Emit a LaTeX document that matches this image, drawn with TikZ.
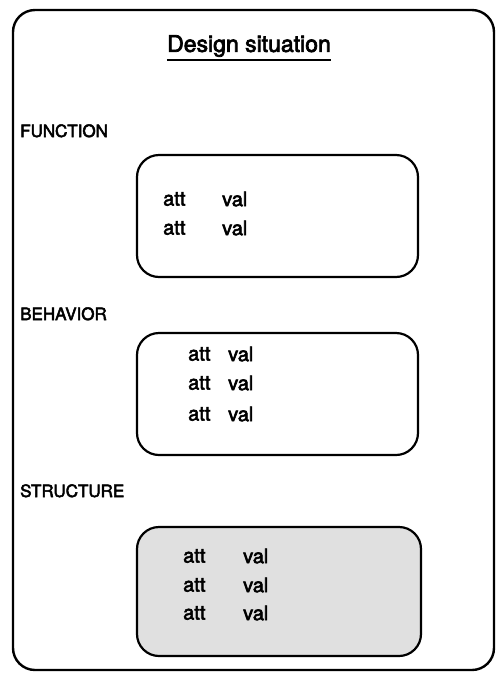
\documentclass[tikz,border=0pt]{standalone}
\usepackage{fontspec}
\setmainfont{TeX Gyre Heros}[FakeBold=3]
\begin{document}
\begin{tikzpicture}[x=1pt,y=-1pt,
  frame/.style={draw, line width=2.4pt, rounded corners=22pt, inner sep=0pt},
  slot/.style={draw, line width=2.2pt, rounded corners=22pt, inner sep=0pt},
  lbl/.style={anchor=base west, font=\fontsize{17}{19}\selectfont, inner sep=0pt},
  av/.style={anchor=west, font=\fontsize{20}{22}\selectfont, inner sep=0pt}]
\useasboundingbox (0,0) rectangle (498,673);
\node[frame, minimum width=481pt, minimum height=660pt] (outer) at (253.5,340) {};
\node[font=\fontsize{23}{26}\selectfont, inner sep=0pt] (title) at (249,46) {Design situation};
\draw[line width=1.8pt] ([yshift=-3pt]title.south west) -- ([yshift=-3pt]title.south east);
\node[lbl] (function) at (20,137) {FUNCTION};
\node[slot, minimum width=281pt, minimum height=122pt] (fbox) at (277.5,216) {};
\node[av] (fa1) at (163,199) {att};
\node[av] (fv1) at (222,199) {val};
\node[av] (fa2) at (163,228) {att};
\node[av] (fv2) at (222,228) {val};
\node[lbl] (behavior) at (20,320) {BEHAVIOR};
\node[slot, minimum width=281pt, minimum height=122pt] (bbox) at (277.5,394) {};
\node[av] (ba1) at (188,354) {att};
\node[av] (bv1) at (228,354) {val};
\node[av] (ba2) at (188,383) {att};
\node[av] (bv2) at (228,383) {val};
\node[av] (ba3) at (188,414) {att};
\node[av] (bv3) at (228,414) {val};
\node[lbl] (structure) at (20,497) {STRUCTURE};
\node[slot, fill=black!12, minimum width=284pt, minimum height=129pt] (sbox) at (279,591.5) {};
\node[av] (sa1) at (183,556) {att};
\node[av] (sv1) at (243,556) {val};
\node[av] (sa2) at (183,585) {att};
\node[av] (sv2) at (243,585) {val};
\node[av] (sa3) at (183,613) {att};
\node[av] (sv3) at (243,613) {val};
\end{tikzpicture}
\end{document}
